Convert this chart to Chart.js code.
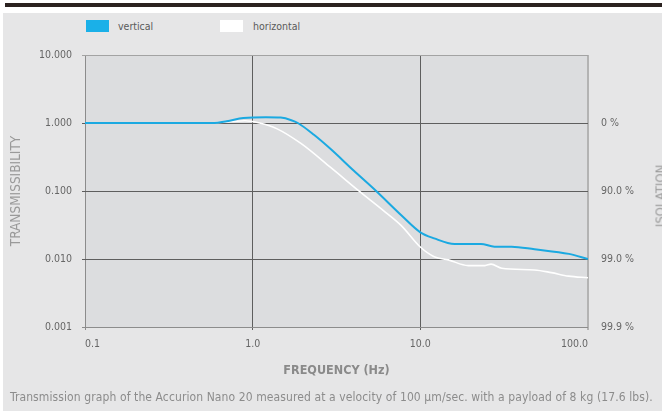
<!DOCTYPE html>
<html>
<head>
<meta charset="utf-8">
<script src="https://cdn.jsdelivr.net/npm/chart.js@4/dist/chart.umd.min.js"></script>
<style>
  html, body { margin: 0; padding: 0; background: #ffffff; }
  #wrap { position: relative; width: 662px; height: 411px; overflow: hidden;
          font-family: "DejaVu Sans Condensed", "Liberation Sans", sans-serif; }
  #rule { position: absolute; left: 5px; top: 3px; width: 657px; height: 4px; background: #2b2220; }
  #panel { position: absolute; left: 3px; top: 13px; right: 0; bottom: 0; background: #e6e6e7; }
  #chart { position: absolute; left: 0; top: 0; }
  .swatch { position: absolute; top: 20px; width: 23px; height: 12px; }
  .legtext { position: absolute; top: 19px; font-size: 10.5px; line-height: 14px; color: #5a5a5a; }
  #isolation { position: absolute; left: 660px; top: 196px; font-size: 13px; color: #9a9a9a;
               transform: translate(-50%, -50%) rotate(-90deg); white-space: nowrap; }
  #caption { position: absolute; left: 10px; top: 389px; font-size: 12px; line-height: 16px;
             letter-spacing: 0.1px; color: #8c8c8c; white-space: nowrap; }
</style>
</head>
<body>
<div id="wrap">
  <div id="rule"></div>
  <div id="panel"></div>
  <div class="swatch" style="left:86px;background:#1ab0e8"></div>
  <div class="legtext" style="left:118px">vertical</div>
  <div class="swatch" style="left:220px;background:#ffffff"></div>
  <div class="legtext" style="left:253px">horizontal</div>
  <canvas id="chart" width="662" height="411"></canvas>
  <div id="isolation">ISOLATION</div>
  <div id="caption">Transmission graph of the Accurion Nano 20 measured at a velocity of 100 µm/sec. with a payload of 8 kg (17.6 lbs).</div>
</div>
<script>
// Frequency axis (Hz) and its labels
const freqTicks  = [0.1, 1, 10, 100];
const freqLabels = ['0.1', '1.0', '10.0', '100.0'];

// Transmissibility axis and matching isolation labels
const transTicks      = [0.001, 0.01, 0.1, 1, 10];
const transLabels     = ['0.001', '0.010', '0.100', '1.000', '10.000'];
const isolationTicks  = [0.001, 0.01, 0.1, 1];
const isolationLabels = ['99.9 %', '99.0 %', '90.0 %', '0 %'];

// Vertical transmissibility
const freqVertical = [0.1, 0.3, 0.58, 0.7, 0.88, 1.2, 1.47, 1.7, 1.86, 2.32, 2.93, 4.0, 5.45, 7.7, 10, 12.1, 16, 23, 27.7, 35, 48, 77, 100];
const vertical     = [1.0, 1.0, 1.0, 1.06, 1.18, 1.22, 1.2, 1.1, 1.0, 0.67, 0.41, 0.20, 0.10, 0.044, 0.0247, 0.0201, 0.0166, 0.0166, 0.0152, 0.0152, 0.0139, 0.0119, 0.010];

// Horizontal transmissibility
const freqHorizontal = [0.1, 0.3, 0.55, 0.75, 0.9, 1.1, 1.4, 1.94, 2.93, 4.24, 6.0, 7.7, 10, 12.1, 14.7, 19.3, 24.3, 26.4, 30.6, 48, 60.5, 76.6, 100];
const horizontal     = [1.0, 1.0, 1.0, 1.05, 1.08, 1.0, 0.82, 0.50, 0.22, 0.103, 0.052, 0.031, 0.0150, 0.0108, 0.0097, 0.0080, 0.0080, 0.0084, 0.0073, 0.0069, 0.0063, 0.0056, 0.0053];

const toPoints = (xs, ys) => xs.map((x, i) => ({ x: x, y: ys[i] }));

const fontFamily = '"DejaVu Sans Condensed", "Liberation Sans", sans-serif';
const tickFont = { family: fontFamily, size: 10.5 };

// Shaded plotting area behind the grid
const plotBackground = {
  id: 'plotBackground',
  beforeDraw(chart) {
    const { ctx, chartArea: a } = chart;
    ctx.save();
    ctx.fillStyle = '#dcdddf';
    ctx.fillRect(a.left, a.top, a.right - a.left, a.bottom - a.top);
    ctx.restore();
  }
};

new Chart(document.getElementById('chart'), {
  type: 'line',
  data: {
    datasets: [
      { label: 'vertical', data: toPoints(freqVertical, vertical), borderColor: '#1ba9e1',
        borderWidth: 2, pointRadius: 0, cubicInterpolationMode: 'monotone', fill: false },
      { label: 'horizontal', data: toPoints(freqHorizontal, horizontal), borderColor: '#ffffff',
        borderWidth: 1.6, pointRadius: 0, cubicInterpolationMode: 'monotone', fill: false }
    ]
  },
  options: {
    responsive: false,
    animation: false,
    devicePixelRatio: 1,
    layout: { padding: { top: 55, left: 0, right: 0, bottom: 0 } },
    plugins: { legend: { display: false }, tooltip: { enabled: false } },
    scales: {
      x: {
        type: 'logarithmic', min: 0.1, max: 100,
        afterBuildTicks(s) { s.ticks = freqTicks.map(v => ({ value: v })); },
        afterFit(s) { s.height = 84; },
        border: { display: false },
        grid: {
          color: c => c.tick.value === 0.1 ? '#8c8c8c' : (c.tick.value === 100 ? '#b3b3b3' : '#5e5e5e'),
          lineWidth: c => c.tick.value === 100 ? 2 : 1,
          tickLength: 3
        },
        ticks: {
          align: 'inner', maxRotation: 0, autoSkip: false, padding: 8, color: '#666', font: tickFont,
          callback: v => freqLabels[freqTicks.indexOf(v)]
        },
        title: {
          display: true, text: 'FREQUENCY (Hz)', color: '#8a8a8a',
          font: { family: fontFamily, size: 12.5, weight: 'bold' },
          padding: { top: 0, bottom: 33 }
        }
      },
      y: {
        type: 'logarithmic', position: 'left', min: 0.001, max: 10,
        afterBuildTicks(s) { s.ticks = transTicks.map(v => ({ value: v })); },
        afterFit(s) { s.width = 85; },
        border: { display: false },
        grid: {
          color: c => c.tick.value === 0.001 ? '#8c8c8c' : (c.tick.value === 10 ? '#a3a3a3' : '#5e5e5e'),
          tickLength: 3
        },
        ticks: {
          padding: 10, color: '#666', font: tickFont, autoSkip: false,
          callback: v => transLabels[transTicks.indexOf(v)]
        },
        title: {
          display: true, text: 'TRANSMISSIBILITY', color: '#9a9a9a',
          font: { family: fontFamily, size: 13.5 },
          padding: { top: 8, bottom: 0 }
        }
      },
      y2: {
        type: 'logarithmic', position: 'right', min: 0.001, max: 10,
        afterBuildTicks(s) { s.ticks = isolationTicks.map(v => ({ value: v })); },
        afterFit(s) { s.width = 74; },
        border: { display: false },
        grid: { display: false, drawTicks: false },
        ticks: {
          padding: 13, color: '#666', font: tickFont, autoSkip: false,
          callback: v => isolationLabels[isolationTicks.indexOf(v)]
        }
      }
    }
  },
  plugins: [plotBackground]
});
</script>
</body>
</html>
